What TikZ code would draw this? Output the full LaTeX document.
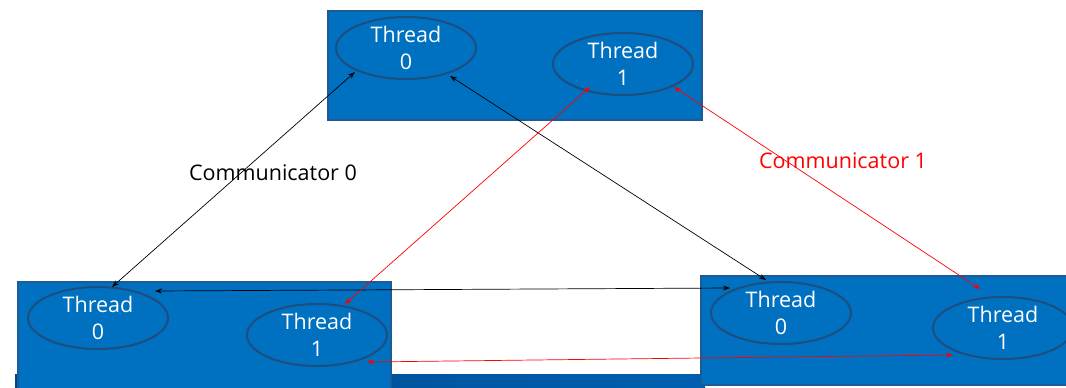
\documentclass[tikz,border=0pt]{standalone}
\usepackage{fontspec}
\setmainfont{Open Sans}
\usetikzlibrary{arrows.meta,shapes.geometric,calc}
\definecolor{BoxBlue}{RGB}{0,112,192}
\definecolor{BoxEdge}{RGB}{30,90,150}
\definecolor{RingBlue}{RGB}{28,78,128}
\definecolor{BarDark}{RGB}{0,70,138}
\definecolor{BarLight}{RGB}{0,96,176}
\definecolor{CommRed}{RGB}{255,0,0}

\tikzset{
  proc/.style={draw=BoxEdge, line width=1.2pt, fill=BoxBlue},
  thread/.style={ellipse, draw=RingBlue, line width=2pt, minimum width=140pt, minimum height=62pt, inner sep=0pt,
    label={[text=white, font=\fontsize{21.5}{27}\selectfont, align=center]center:Thread\\#1}},
  link/.style={{Stealth[length=7pt,width=5pt]}-{Stealth[length=7pt,width=5pt]}, line width=0.7pt}
}

\begin{document}
\begin{tikzpicture}[x=1pt,y=-1pt]
  \useasboundingbox (0,0) rectangle (1066,388);
  % bar at the bottom
  \shade[left color=BarDark, right color=BarLight] (15,374) rectangle (705,388);
  % processes
  \draw[proc] (328,11) rectangle (702,120);
  \draw[proc] (18,282) rectangle (391,390);
  \draw[proc] (701,276) rectangle (1070,385);
  % threads
  \node[thread=0] (t0) at (406,48) {};
  \node[thread=1] (t1) at (623,64) {};
  \node[thread=0] (l0) at (98,318) {};
  \node[thread=1] (l1) at (317,335) {};
  \node[thread=0] (r0) at (781,313) {};
  \node[thread=1] (r1) at (1003,328) {};
  % communicator 0
  \draw[link] ($(l0)+(14,-31)$) -- ($(t0)+(-51,24)$);
  \draw[link] ($(t0)+(44,28)$) -- ($(r0)+(-15,-33)$);
  \draw[link] ($(l0)+(57,-27)$) -- ($(r0)+(-51,-25)$);
  % communicator 1
  \draw[link, CommRed] ($(l1)+(28,-31)$) -- ($(t1)+(-33,23)$);
  \draw[link, CommRed] ($(t1)+(51,23)$) -- ($(r1)+(-23,-39)$);
  \draw[link, CommRed] ($(l1)+(50,27)$) -- ($(r1)+(-50,27)$);
  \node[font=\fontsize{21.5}{26}\selectfont] (c0) at (273,173) {Communicator 0};
  \node[font=\fontsize{21.5}{26}\selectfont, text=CommRed] (c1) at (843,161) {Communicator 1};
\end{tikzpicture}
\end{document}
